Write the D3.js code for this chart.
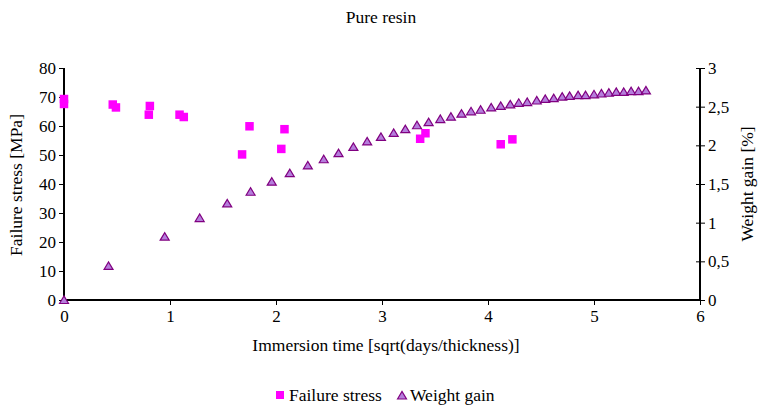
<!DOCTYPE html>
<html><head><meta charset="utf-8">
<script src="https://cdn.jsdelivr.net/npm/d3@7"></script>
<style>body{margin:0;background:#fff}svg{display:block}</style>
</head><body><svg id="c" width="759" height="406"></svg>
<script>
const stressX = [0, 0, 0.46, 0.49, 0.81, 0.80, 1.09, 1.13, 1.68, 1.75, 2.05, 2.08, 3.36, 3.41, 4.12, 4.23];
const stressY = [69.3, 67.6, 67.4, 66.4, 66.9, 63.9, 63.9, 63.1, 50.2, 59.9, 52.1, 58.9, 55.6, 57.5, 53.7, 55.4];
const gainX = [0, 0.42, 0.95, 1.28, 1.54, 1.76, 1.96, 2.13, 2.30, 2.45, 2.59, 2.73, 2.86, 2.99, 3.11, 3.22, 3.33, 3.44, 3.55, 3.65, 3.75, 3.84, 3.93, 4.03, 4.12, 4.21, 4.29, 4.37, 4.46, 4.54, 4.62, 4.70, 4.77, 4.85, 4.92, 5.00, 5.07, 5.14, 5.21, 5.28, 5.35, 5.42, 5.49];
const gainY = [0, 0.44, 0.82, 1.06, 1.25, 1.40, 1.53, 1.64, 1.74, 1.82, 1.90, 1.98, 2.05, 2.11, 2.16, 2.21, 2.26, 2.30, 2.34, 2.37, 2.41, 2.44, 2.46, 2.49, 2.51, 2.53, 2.55, 2.56, 2.58, 2.60, 2.61, 2.63, 2.64, 2.65, 2.65, 2.66, 2.67, 2.68, 2.69, 2.69, 2.70, 2.70, 2.71];
const xTicks = [0, 1, 2, 3, 4, 5, 6];
const yLeftTicks = [0, 10, 20, 30, 40, 50, 60, 70, 80];
const yRightTicks = [0, 0.5, 1, 1.5, 2, 2.5, 3];
const yRightLabels = ["0", "0,5", "1", "1,5", "2", "2,5", "3"];

const FF = '"Times New Roman", Tinos, Times, serif';
const fs = "17.5px", tfs = "17px";
const svg = d3.select("#c").attr("font-family", FF);
const L = 64, R = 700, T = 68, B = 300;
const x = d3.scaleLinear().domain([0, 6]).range([L, R]);
const yL = d3.scaleLinear().domain([0, 80]).range([B, T]);
const yR = d3.scaleLinear().domain([0, 3]).range([B, T]);

const txt = (sel) => sel.attr("font-family", FF).attr("font-size", fs).attr("fill", "#000");

// title
txt(svg.append("text")).attr("x", 381).attr("y", 23).attr("text-anchor", "middle").text("Pure resin");

// axes
const gx = svg.append("g").attr("transform", `translate(0,${B})`)
  .call(d3.axisBottom(x).tickValues(xTicks).tickFormat(d3.format("d")).tickSize(5).tickPadding(5));
const gl = svg.append("g").attr("transform", `translate(${L},0)`)
  .call(d3.axisLeft(yL).tickValues(yLeftTicks).tickSize(5).tickPadding(3));
const gr = svg.append("g").attr("transform", `translate(${R},0)`)
  .call(d3.axisRight(yR).tickValues(yRightTicks).tickFormat((d, i) => yRightLabels[i]).tickSize(5).tickPadding(3));
gr.selectAll(".tick line").attr("x1", -4);
[gx, gl, gr].forEach(g => {
  g.attr("font-family", FF).attr("font-size", tfs);
  g.select(".domain").attr("stroke", "#000").attr("stroke-width", 2);
  g.selectAll(".tick line").attr("stroke", "#000").attr("stroke-width", 1);
  g.selectAll(".tick text").attr("fill", "#000");
});
gx.select(".domain").attr("d", `M${L},0H${R}`);
gl.select(".domain").attr("d", `M0,${T}V${B}`);
gr.select(".domain").attr("d", `M0,${T}V${B}`);
gx.selectAll(".tick").filter(d => d === 0).select("line").remove();

// axis titles
txt(svg.append("text")).attr("transform", `translate(22,${(T + B) / 2 + 1}) rotate(-90)`).attr("text-anchor", "middle").text("Failure stress [MPa]");
txt(svg.append("text")).attr("transform", `translate(753,${(T + B) / 2}) rotate(-90)`).attr("text-anchor", "middle").text("Weight gain [%]");
txt(svg.append("text")).attr("x", 386).attr("y", 351).attr("text-anchor", "middle").text("Immersion time [sqrt(days/thickness)]");

// markers
const sq = 8.5;
svg.append("g").selectAll("rect").data(stressX.map((v, i) => [v, stressY[i]])).join("rect")
  .attr("x", d => x(d[0]) - sq / 2).attr("y", d => yL(d[1]) - sq / 2)
  .attr("width", sq).attr("height", sq).attr("fill", "#FF00FF");

const tri = (cx, cy) => `M${cx - 4.5},${cy + 3.5}L${cx},${cy - 4}L${cx + 4.5},${cy + 3.5}Z`;
svg.append("g").selectAll("path").data(gainX.map((v, i) => [v, gainY[i]])).join("path")
  .attr("d", d => tri(x(d[0]), yR(d[1])))
  .attr("fill", "#B57EDC").attr("stroke", "#800080").attr("stroke-width", 1.2);

// legend
const lg = svg.append("g");
lg.append("rect").attr("x", 276).attr("y", 391).attr("width", 8).attr("height", 8).attr("fill", "#FF00FF");
txt(lg.append("text")).attr("x", 289).attr("y", 401).text("Failure stress");
lg.append("path").attr("d", tri(402, 395.5)).attr("fill", "#B57EDC").attr("stroke", "#800080").attr("stroke-width", 1.2);
txt(lg.append("text")).attr("x", 410).attr("y", 401).text("Weight gain");
</script></body></html>
